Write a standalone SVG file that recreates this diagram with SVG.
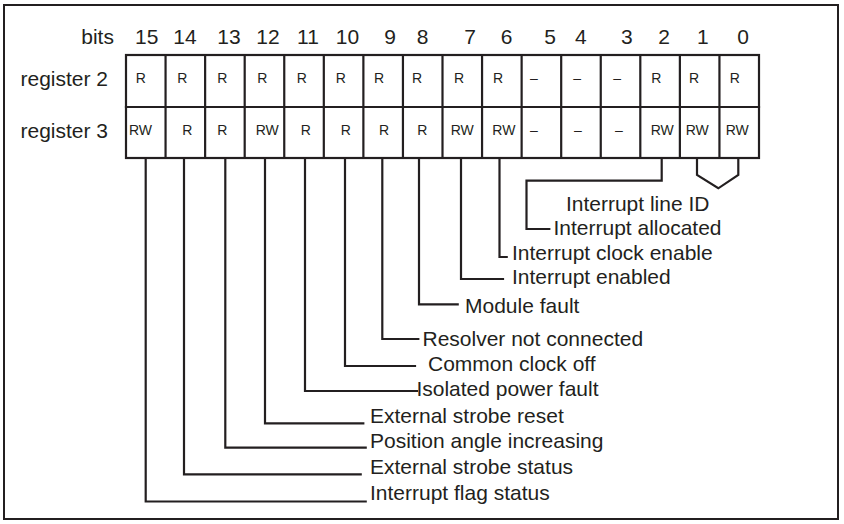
<svg xmlns="http://www.w3.org/2000/svg" width="844" height="524" viewBox="0 0 844 524">
<style>
  .ln{fill:none;stroke:#231f20;stroke-width:2.2;stroke-linejoin:miter;stroke-linecap:square}
  .cl{fill:none;stroke:#231f20;stroke-width:2}
  .big{font-family:"Liberation Sans",Arial,sans-serif;font-size:20px;fill:#231f20}
  .cell{font-family:"Liberation Sans",Arial,sans-serif;font-size:14px;fill:#231f20}
  .mid{text-anchor:middle}
</style>
<rect x="0" y="0" width="844" height="524" fill="#ffffff"/>
<g id="frame"><rect x="4" y="5" width="834" height="514" class="cl"/></g>

<g id="header" transform="scale(1.05 1)">
  <text class="big" x="77.4" y="44.3">bits</text>
  <text class="big mid" x="139.7" y="44.3">15</text>
  <text class="big mid" x="176.2" y="44.3">14</text>
  <text class="big mid" x="218.1" y="44.3">13</text>
  <text class="big mid" x="255.2" y="44.3">12</text>
  <text class="big mid" x="293.3" y="44.3">11</text>
  <text class="big mid" x="331" y="44.3">10</text>
  <text class="big mid" x="371.4" y="44.3">9</text>
  <text class="big mid" x="402.4" y="44.3">8</text>
  <text class="big mid" x="447.6" y="44.3">7</text>
  <text class="big mid" x="482.6" y="44.3">6</text>
  <text class="big mid" x="523.8" y="44.3">5</text>
  <text class="big mid" x="553.3" y="44.3">4</text>
  <text class="big mid" x="596.9" y="44.3">3</text>
  <text class="big mid" x="632.4" y="44.3">2</text>
  <text class="big mid" x="669.3" y="44.3">1</text>
  <text class="big mid" x="707.6" y="44.3">0</text>
</g>

<g id="table">
  <rect x="126" y="55" width="633" height="103" class="ln"/>
  <path class="ln" d="M126 107H759 M165.56 55V158 M205.13 55V158 M244.69 55V158 M284.25 55V158 M323.81 55V158 M363.38 55V158 M402.94 55V158 M442.5 55V158 M482.06 55V158 M521.63 55V158 M561.19 55V158 M600.75 55V158 M640.31 55V158 M679.88 55V158 M719.44 55V158"/>
</g>

<g id="register2">
  <text class="big" transform="scale(1.05 1)" x="19.5" y="86.5">register 2</text>
  <g class="cell">
    <text x="135.7" y="83">R</text>
    <text x="177.3" y="83">R</text>
    <text x="217.3" y="83">R</text>
    <text x="257.3" y="83">R</text>
    <text x="296.7" y="83">R</text>
    <text x="335.7" y="83">R</text>
    <text x="374" y="83">R</text>
    <text x="412" y="83">R</text>
    <text x="454" y="83">R</text>
    <text x="493" y="83">R</text>
    <text x="530" y="83">–</text>
    <text x="573.3" y="83">–</text>
    <text x="613.3" y="83">–</text>
    <text x="651.3" y="83">R</text>
    <text x="689" y="83">R</text>
    <text x="729.7" y="83">R</text>
  </g>
</g>

<g id="register3">
  <text class="big" transform="scale(1.05 1)" x="19.5" y="138.5">register 3</text>
  <g class="cell">
    <text x="129" y="135">RW</text>
    <text x="182.3" y="135">R</text>
    <text x="217.3" y="135">R</text>
    <text x="255.7" y="135">RW</text>
    <text x="300.7" y="135">R</text>
    <text x="340.7" y="135">R</text>
    <text x="379" y="135">R</text>
    <text x="417.3" y="135">R</text>
    <text x="450.7" y="135">RW</text>
    <text x="492.3" y="135">RW</text>
    <text x="530" y="135">–</text>
    <text x="574" y="135">–</text>
    <text x="615" y="135">–</text>
    <text x="650.7" y="135">RW</text>
    <text x="685.7" y="135">RW</text>
    <text x="725.7" y="135">RW</text>
  </g>
</g>

<g id="connectors" class="ln">
  <path d="M145.7 158V501.5H365.7"/>
  <path d="M184 158V474.3H360.7"/>
  <path d="M225.3 158V447.7H365.7"/>
  <path d="M265 158V423.3H363.3"/>
  <path d="M305 158V391H417"/>
  <path d="M345 158V366H415"/>
  <path d="M382.3 158V339H418.3"/>
  <path d="M419 158V304.3H457.7"/>
  <path d="M461 158V279H503"/>
  <path d="M499.5 158V257H506.7"/>
  <path d="M661.7 158V180.7H526.5V229H549.3"/>
  <path d="M697 158V175L718.3 188.3L738.3 175V158"/>
</g>

<g id="labels" class="big" transform="scale(1.05 1)">
  <g id="lbl-line-id"><text x="539" y="211">Interrupt line ID</text></g>
  <g id="lbl-allocated"><text x="527.1" y="235">Interrupt allocated</text></g>
  <g id="lbl-clock-enable"><text x="487.6" y="260">Interrupt clock enable</text></g>
  <g id="lbl-enabled"><text x="487.6" y="284.5">Interrupt enabled</text></g>
  <g id="lbl-module-fault"><text x="442.9" y="313.3">Module fault</text></g>
  <g id="lbl-resolver"><text x="402.4" y="346.3">Resolver not connected</text></g>
  <g id="lbl-common-clock"><text x="407.6" y="371.3">Common clock off</text></g>
  <g id="lbl-isolated"><text x="396.6" y="396">Isolated power fault</text></g>
  <g id="lbl-strobe-reset"><text x="352.4" y="422.7">External strobe reset</text></g>
  <g id="lbl-angle"><text x="352.4" y="448.3">Position angle increasing</text></g>
  <g id="lbl-strobe-status"><text x="352.4" y="474.3">External strobe status</text></g>
  <g id="lbl-flag"><text x="352.4" y="500">Interrupt flag status</text></g>
</g>
</svg>
